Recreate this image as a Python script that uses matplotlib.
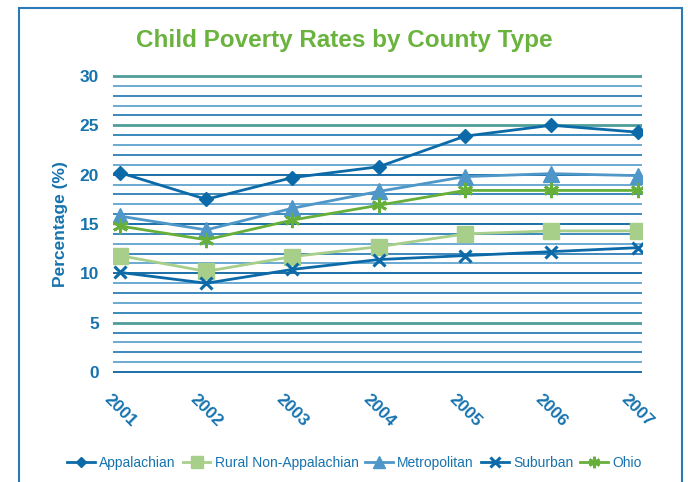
import matplotlib
matplotlib.use("Agg")
import matplotlib.pyplot as plt
from matplotlib.patches import Rectangle

years = [2001, 2002, 2003, 2004, 2005, 2006, 2007]
appalachian = [20.2, 17.5, 19.7, 20.8, 23.9, 25.0, 24.3]
rural = [11.8, 10.2, 11.7, 12.7, 14.0, 14.3, 14.3]
metropolitan = [15.8, 14.4, 16.6, 18.3, 19.8, 20.1, 19.9]
suburban = [10.1, 9.0, 10.4, 11.4, 11.8, 12.2, 12.6]
ohio = [14.8, 13.4, 15.4, 16.9, 18.4, 18.4, 18.4]
y_ticks = [0, 5, 10, 15, 20, 25, 30]

plt.rcParams['font.family'] = ['Liberation Sans', 'DejaVu Sans']

W, H = 688, 482
fig = plt.figure(figsize=(W/100, H/100), dpi=100)
ax = fig.add_axes([113/W, 1-380/H, (642-113)/W, (380-68)/H])

dark = '#0b6aa7'
tickc = '#1673ae'
fig.patches.append(Rectangle((19/W, -0.1), (682-19)/W, 1.1 - 8/H, transform=fig.transFigure,
                             fill=False, edgecolor='#2a7ab8', linewidth=1.5))

ax.set_ylim(-0.8, 30.8)
ax.set_xlim(2000.92, 2007.05)
for v in range(0, 31):
    if v in (5, 25, 30):
        c, lw = '#4f9d98', 2.0
    elif v in (0, 10, 15, 20):
        c, lw = '#1a6fa6', 1.4
    elif v % 2 == 0:
        c, lw = '#1b75b0', 1.2
    else:
        c, lw = '#6aaad3', 1.4
    ax.axhline(v, color=c, linewidth=lw, zorder=0)

ax.plot(years, appalachian, color=dark, marker='D', markersize=7, linewidth=2, label='Appalachian')
ax.plot(years, rural, color='#a7cf8a', marker='s', markersize=11, linewidth=2, label='Rural Non-Appalachian')
ax.plot(years, metropolitan, color='#4f97c9', marker='^', markersize=11, linewidth=2, label='Metropolitan')
ax.plot(years, suburban, color=dark, marker='x', markersize=9, markeredgewidth=2.2, linewidth=2, label='Suburban')
ax.plot(years, ohio, color='#66b03a', marker=(6, 2, 0), markersize=11, markeredgewidth=2, linewidth=2, label='Ohio')

for s in ax.spines.values():
    s.set_visible(False)
ax.set_yticks(y_ticks)
ax.set_yticklabels([str(t) for t in y_ticks], fontsize=12.5, fontweight='bold', color=tickc)
ax.tick_params(axis='y', length=0, pad=10)
ax.set_xticks(years)
ax.set_xticklabels([str(y) for y in years], rotation=-45, ha='center', va='center',
                   rotation_mode='anchor', fontsize=12.5, fontweight='bold', color=tickc)
ax.tick_params(axis='x', length=0, pad=22)
ax.set_ylabel('Percentage (%)', fontsize=12.5, fontweight='bold', color=tickc, labelpad=8)

fig.text(0.5, 1-40/H, 'Child Poverty Rates by County Type', ha='center', va='center',
         fontsize=17.5, fontweight='bold', color='#6ab33f')

fig.legend(loc='center', bbox_to_anchor=(0.515, 1-463/H), ncol=5, frameon=False,
           fontsize=10, handlelength=2.0, columnspacing=0.5, handletextpad=0.3,
           labelcolor=tickc, markerscale=0.75)

fig.savefig('out.png', dpi=100)
